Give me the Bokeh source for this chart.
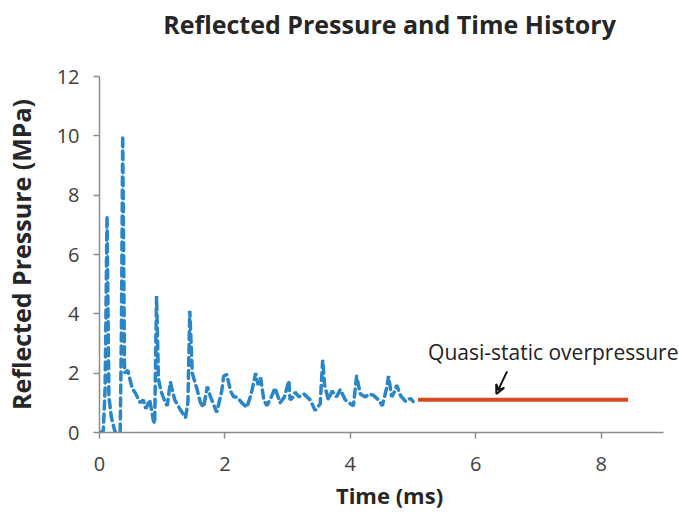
from bokeh.plotting import figure
from bokeh.models import Range1d, LinearAxis, Label, Arrow, VeeHead, FixedTicker
from bokeh.embed import file_html
from bokeh.resources import INLINE

# Reflected pressure trace (ms, MPa)
time_ms = [0.00, 0.06, 0.09, 0.12, 0.15, 0.19, 0.25, 0.33, 0.35, 0.37, 0.40, 0.45,
           0.52, 0.58, 0.65, 0.70, 0.74, 0.80, 0.86, 0.88, 0.91, 0.94, 0.98, 1.05,
           1.08, 1.13, 1.20, 1.28, 1.37, 1.41, 1.44, 1.48, 1.55, 1.61, 1.66, 1.72,
           1.77, 1.87, 1.95, 1.98, 2.03, 2.09, 2.14, 2.19, 2.27, 2.35, 2.42, 2.49,
           2.53, 2.57, 2.62, 2.67, 2.74, 2.80, 2.88, 2.95, 3.02, 3.04, 3.09, 3.12,
           3.18, 3.26, 3.36, 3.44, 3.52, 3.56, 3.59, 3.65, 3.71, 3.78, 3.84, 3.92,
           3.98, 4.05, 4.10, 4.16, 4.24, 4.30, 4.37, 4.45, 4.51, 4.58, 4.61, 4.66,
           4.71, 4.74, 4.80, 4.88, 4.96, 5.00]
pressure_mpa = [0.00, 0.05, 1.5, 7.3, 1.2, 0.5, 0.0, 0.0, 3.5, 10.0, 2.0, 2.1,
                1.5, 1.3, 1.0, 1.1, 0.8, 1.1, 0.4, 0.3, 4.6, 1.8, 1.4, 1.0,
                0.9, 1.7, 1.1, 0.8, 0.5, 1.0, 4.1, 2.0, 1.5, 1.0, 0.85, 1.55,
                1.2, 0.68, 1.4, 1.9, 1.95, 1.4, 1.2, 1.2, 1.0, 0.85, 1.3, 2.0,
                1.6, 1.85, 1.1, 0.9, 1.2, 1.5, 1.0, 1.2, 1.75, 1.1, 1.2, 1.36,
                1.2, 1.3, 1.1, 0.74, 0.97, 2.45, 1.6, 1.1, 1.4, 1.2, 1.45, 1.1,
                1.0, 0.9, 1.9, 1.3, 1.2, 1.3, 1.25, 1.1, 0.9, 1.5, 1.9, 1.2,
                1.4, 1.6, 1.25, 1.05, 1.15, 1.05]

# Quasi-static overpressure level
qs_time = [5.08, 8.43]
qs_pressure = [1.1, 1.1]

x_ticks = [0, 2, 4, 6, 8]
y_ticks = [0, 2, 4, 6, 8, 10, 12]

title_text = "Reflected Pressure and Time History"
annotation_text = "Quasi-static overpressure"

FONT = "Open Sans"
TXT = "#262626"

# x range reaches a little past 9 so the annotation text fits; the axis line stops at 9
p = figure(width=679, height=512, output_backend="svg", toolbar_location=None,
           x_range=Range1d(0, 9.25), y_range=Range1d(0, 12),
           min_border_left=99, min_border_right=0, min_border_top=76,
           min_border_bottom=80)
p.outline_line_color = None
p.xgrid.visible = False
p.ygrid.visible = False
p.background_fill_color = "white"
p.border_fill_color = "white"

xa = p.below[0]
ya = p.left[0]

for ax in (xa, ya):
    ax.axis_line_color = "#8c8c8c"
    ax.axis_line_width = 1.5
    ax.major_tick_line_color = "#8c8c8c"
    ax.major_tick_line_width = 1.5
    ax.major_tick_out = 6
    ax.major_tick_in = 0
    ax.minor_tick_line_color = None
    ax.major_label_text_font = FONT
    ax.major_label_text_font_size = "20px"
    ax.major_label_text_color = "#404040"
    ax.axis_label_text_font = FONT
    ax.axis_label_text_font_style = "bold"
    ax.axis_label_text_color = TXT

xa.bounds = (0, 9)
xa.axis_label_text_font_size = "22px"
ya.axis_label_text_font_size = "25px"
xa.ticker = FixedTicker(ticks=x_ticks)
ya.ticker = FixedTicker(ticks=y_ticks)
xa.axis_label = "Time (ms)"
ya.axis_label = "Reflected Pressure (MPa)"
xa.major_label_standoff = 18
ya.major_label_standoff = 14
xa.axis_label_standoff = 6
ya.axis_label_standoff = 16

# chart title drawn as the label of a bare axis above the frame
title_axis = LinearAxis(axis_label=title_text, ticker=FixedTicker(ticks=[]),
                        axis_line_color=None, major_tick_line_color=None,
                        minor_tick_line_color=None,
                        axis_label_text_font=FONT,
                        axis_label_text_font_size="25px",
                        axis_label_text_font_style="bold",
                        axis_label_text_color=TXT,
                        axis_label_standoff=36)
p.add_layout(title_axis, "above")

p.line(time_ms, pressure_mpa, line_color="#2a86c8", line_width=3.5,
       line_dash="8 5", line_cap="round")
p.line(qs_time, qs_pressure, line_color="#d84b20", line_width=4)

p.add_layout(Label(x=5.24, y=2.7, text=annotation_text, text_font=FONT,
                   text_font_size="21px", text_color="#222222",
                   text_baseline="middle"))
p.add_layout(Arrow(x_start=6.50, y_start=2.06, x_end=6.33, y_end=1.30,
                   line_color="#111111", line_width=2,
                   end=VeeHead(size=9, line_color="#111111", line_width=2,
                               fill_color=None)))

open("out.html", "w").write(file_html(p, INLINE))
